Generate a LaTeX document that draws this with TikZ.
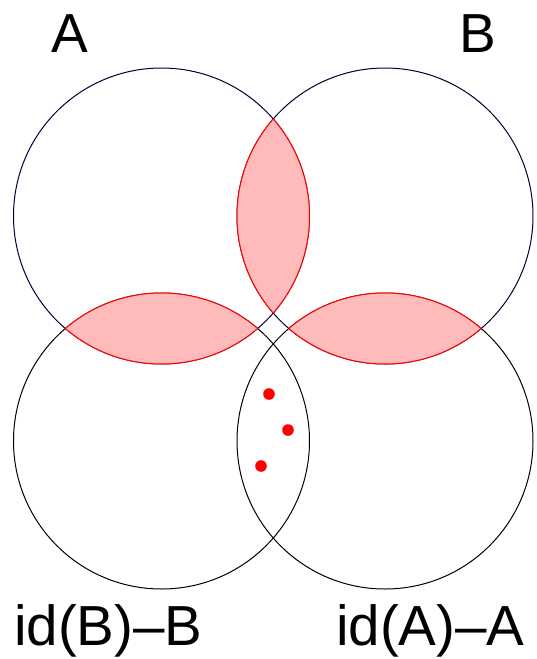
\documentclass[tikz,border=0pt]{standalone}
\usepackage{fontspec}
\setmainfont{Liberation Sans}
\definecolor{navy}{HTML}{000033}
\definecolor{lenspink}{HTML}{FFBBBB}
\tikzset{
  lbl/.style={anchor=base west,inner sep=0pt,font=\fontsize{55}{60}\selectfont},
  lblb/.style={anchor=base west,inner sep=0pt,font=\fontsize{56.5}{60}\selectfont},
  ring/.style={line width=1pt},
  dotmark/.style={fill=red,draw=none},
}
\begin{document}
\begin{tikzpicture}[x=1pt,y=-1pt]
\useasboundingbox (0,0) rectangle (536,659);
\def\R{148}
\coordinate (cA) at (161.5,216);
\coordinate (cB) at (385,216);
\coordinate (cC) at (161.5,441);
\coordinate (cD) at (385,441);
% circles
\draw[ring,navy] (cA) circle (\R);
\draw[ring,navy] (cB) circle (\R);
\draw[ring,black] (cC) circle (\R);
\draw[ring,black] (cD) circle (\R);
% lens A-B
\begin{scope}\clip (cA) circle (\R); \fill[lenspink] (cB) circle (\R); \draw[ring,red] (cB) circle (\R);\end{scope}
\begin{scope}\clip (cB) circle (\R); \draw[ring,red] (cA) circle (\R);\end{scope}
% lens A-C
\begin{scope}\clip (cA) circle (\R); \fill[lenspink] (cC) circle (\R); \draw[ring,red] (cC) circle (\R);\end{scope}
\begin{scope}\clip (cC) circle (\R); \draw[ring,red] (cA) circle (\R);\end{scope}
% lens B-D
\begin{scope}\clip (cB) circle (\R); \fill[lenspink] (cD) circle (\R); \draw[ring,red] (cD) circle (\R);\end{scope}
\begin{scope}\clip (cD) circle (\R); \draw[ring,red] (cB) circle (\R);\end{scope}
% dots
\fill[dotmark] (269,394) circle (5.8);
\fill[dotmark] (288,430) circle (5.8);
\fill[dotmark] (261,466) circle (5.8);
% labels
\node[lbl] (la) at (51,52) {A};
\node[lbl] (lb) at (459,52) {B};
\node[lblb] (lc) at (14,645) {id(B)–B};
\node[lblb] (ld) at (336,645) {id(A)–A};
\end{tikzpicture}
\end{document}
